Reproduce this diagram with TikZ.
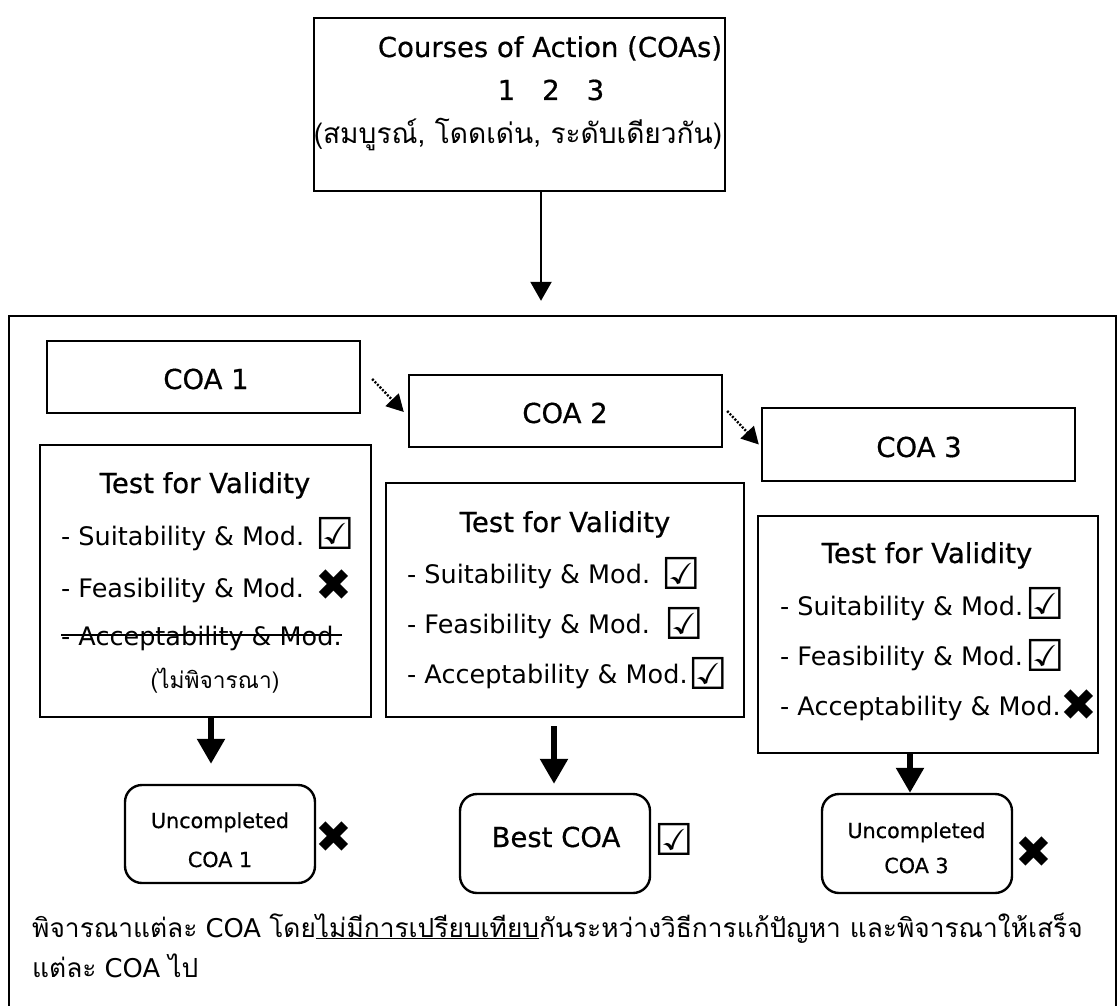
\documentclass[tikz,border=0pt]{standalone}
\usepackage{fontspec}
\setmainfont{DejaVu Sans}
\newfontfamily\headfont[FakeBold=0.6]{DejaVu Sans}
\newfontfamily\thaifont[Script=Thai,Scale=1.02]{Loma}
\usetikzlibrary{arrows.meta}
\newcommand\thai[1]{{\thaifont #1}}
\newcommand\yes{\symbol{"2611}}
\newcommand\no{\symbol{"2716}}

\begin{document}
\begin{tikzpicture}[x=1pt,y=-1pt]
	\tikzset{plainbox/.style={draw,line width=2.4pt,rectangle,inner sep=0pt},
		coabox/.style={plainbox,minimum width=313pt,minimum height=72pt},
		endbox/.style={plainbox,rounded corners=17pt,minimum width=190pt,minimum height=98pt},
		headtext/.style={anchor=base,inner sep=0pt,font=\headfont\fontsize{27.5}{30}\selectfont},
		itemtext/.style={anchor=base west,inner sep=0pt,font=\fontsize{25.5}{28}\selectfont},
		sign/.style={inner sep=0pt,font=\fontsize{44}{44}\selectfont},
		bigarrow/.style={line width=5.5pt,-{Triangle[width=27pt,length=25pt]}},
		thinarrow/.style={line width=2.2pt,-{Triangle[width=21pt,length=19pt]}},
		dotarrow/.style={line width=2.4pt,dash pattern=on 2pt off 1.6pt,-{Triangle[width=18pt,length=17pt]}}}
	\useasboundingbox (0,0) rectangle (1119,1006);
	% top box
	\node [plainbox,minimum width=411pt,minimum height=173pt] (top) at (519.5,104.5)	{};
		\node [headtext]	(topa) at (550,57)			{Courses of Action (COAs)};
		\node [headtext]	(topb) at (551,100)			{1\hspace{27pt}2\hspace{27pt}3};
		\node [headtext]	(topc) at (518,143)			{\thai{(สมบูรณ์, โดดเด่น, ระดับเดียวกัน)}};
	% outer frame
	\node [plainbox,minimum width=1107pt,minimum height=694pt] (frame) at (562.5,663)	{};
	\draw [thinarrow] ([shift={(21.5,0)}]top.south) -- ([shift={(-21.5,-14)}]frame.north);
	% courses of action
	\node [coabox] (c1) at (203.5,377)			{};
		\node [headtext]	at (206,389)		{COA 1};
	\node [coabox] (c2) at (565.5,411)			{};
		\node [headtext]	at (565,423)		{COA 2};
	\node [coabox,minimum height=73pt] (c3) at (918.5,444.5)	{};
		\node [headtext]	at (919,457)		{COA 3};
	\draw [dotarrow] ([shift={(11,2)}]c1.east) -- ([shift={(-4,1)}]c2.west);
	\draw [dotarrow] ([shift={(4,0)}]c2.east) -- ([shift={(-2,0)}]c3.west);
	% tests
	\node [plainbox,minimum width=331pt,minimum height=272pt] (t1) at (205.5,581)	{};
		\node [headtext]	at (205,493)		{Test for Validity};
		\node [itemtext]	at (61,545)			{- Suitability \& Mod.};
		\node [itemtext]	at (61,597)			{- Feasibility \& Mod.};
		\node [itemtext]	(acc1) at (61,645)	{- Acceptability \& Mod.};
		\draw [line width=2.2pt] ([shift={(0,-10)}]acc1.base west) -- ([shift={(0,-10)}]acc1.base east);
		\node [headtext,font=\fontsize{22.3}{26}\selectfont]	at (215,688)	{\thai{(ไม่พิจารณา)}};
		\node [sign]		at (335.5,533)		{\yes};
		\node [sign]		at (333.5,585)		{\no};
	\node [plainbox,minimum width=358pt,minimum height=234pt] (t2) at (565,600)	{};
		\node [headtext]	at (565,532)		{Test for Validity};
		\node [itemtext]	at (407,583)		{- Suitability \& Mod.};
		\node [itemtext]	at (407,633)		{- Feasibility \& Mod.};
		\node [itemtext]	at (407,683)		{- Acceptability \& Mod.};
		\node [sign]		at (681,573)		{\yes};
		\node [sign]		at (684,623)		{\yes};
		\node [sign]		at (708.5,673)		{\yes};
	\node [plainbox,minimum width=340pt,minimum height=237pt] (t3) at (928,634.5)	{};
		\node [headtext]	at (927,563)		{Test for Validity};
		\node [itemtext]	at (780,615)		{- Suitability \& Mod.};
		\node [itemtext]	at (780,665)		{- Feasibility \& Mod.};
		\node [itemtext]	at (780,715)		{- Acceptability \& Mod.};
		\node [sign]		at (1045.5,603)		{\yes};
		\node [sign]		at (1045.5,655)		{\yes};
		\node [sign]		at (1079,705)		{\no};
	% results
	\node [endbox] (u1) at (220,834)			{};
		\node [headtext,font=\headfont\fontsize{20.7}{24}\selectfont]	at (220,828)	{Uncompleted};
		\node [headtext,font=\headfont\fontsize{20.7}{24}\selectfont]	at (220,867)	{COA 1};
		\node [sign]		at (334,837)		{\no};
	\node [endbox,minimum height=99pt] (best) at (555,843.5)	{};
		\node [headtext]	at (556,847)		{Best COA};
		\node [sign]		at (674.5,839)		{\yes};
	\node [endbox,minimum height=99pt] (u3) at (917,843.5)	{};
		\node [headtext,font=\headfont\fontsize{20.7}{24}\selectfont]	at (916.5,838)	{Uncompleted};
		\node [headtext,font=\headfont\fontsize{20.7}{24}\selectfont]	at (916.5,873)	{COA 3};
		\node [sign]		at (1034,852)		{\no};
	\draw [bigarrow] ([shift={(5.5,0)}]t1.south) -- ([shift={(-9,-20)}]u1.north);
	\draw [bigarrow] ([shift={(-11,8)}]t2.south) -- ([shift={(-1,-9)}]best.north);
	\draw [bigarrow] ([shift={(-18,0)}]t3.south) -- ([shift={(-7,0)}]u3.north);
	% note
	\node [itemtext,font=\fontsize{25.8}{28}\selectfont] (note1) at (32,937)
		{\thai{พิจารณาแต่ละ} COA \thai{โดย\underline{ไม่มีการเปรียบเทียบ}กันระหว่างวิธีการแก้ปัญหา และพิจารณาให้เสร็จ}};
	\node [itemtext,font=\fontsize{25.8}{28}\selectfont] (note2) at (32,977)
		{\thai{แต่ละ} COA \thai{ไป}};
\end{tikzpicture}
\end{document}
